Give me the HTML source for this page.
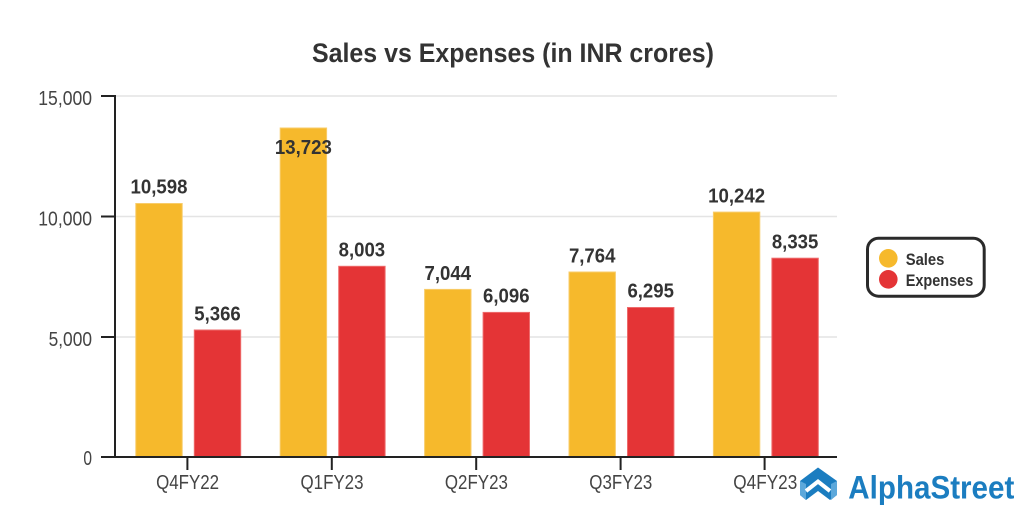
<!DOCTYPE html>
<html>
<head>
<meta charset="utf-8">
<style>
html,body{margin:0;padding:0;background:#fff;}
svg{display:block;}
text{font-family:"Liberation Sans",sans-serif;}
</style>
</head>
<body>
<svg width="1024" height="527" viewBox="0 0 1024 527" xmlns="http://www.w3.org/2000/svg">
<rect x="0" y="0" width="1024" height="527" fill="#fff"/>

<!-- Title -->
<text x="513" y="62" text-anchor="middle" font-size="27" font-weight="bold" fill="#333" textLength="402" lengthAdjust="spacingAndGlyphs">Sales vs Expenses (in INR crores)</text>

<!-- gridlines -->
<g stroke="#e4e4e4" stroke-width="1.5">
<line x1="115" y1="96" x2="837" y2="96"/>
<line x1="115" y1="216.5" x2="837" y2="216.5"/>
<line x1="115" y1="337" x2="837" y2="337"/>
</g>

<!-- bars -->
<g stroke-width="1">
<rect x="135.8" y="203.5" width="46.4" height="253.5" fill="#F6B92C" stroke="#F8CC6A"/>
<rect x="194.3" y="330.0" width="46.4" height="127.0" fill="#E43436" stroke="#EE6B6C"/>
<rect x="280.2" y="128.0" width="46.4" height="329.0" fill="#F6B92C" stroke="#F8CC6A"/>
<rect x="338.7" y="266.3" width="46.4" height="190.7" fill="#E43436" stroke="#EE6B6C"/>
<rect x="424.6" y="289.4" width="46.4" height="167.6" fill="#F6B92C" stroke="#F8CC6A"/>
<rect x="483.1" y="312.4" width="46.4" height="144.6" fill="#E43436" stroke="#EE6B6C"/>
<rect x="569.0" y="272.0" width="46.4" height="185.0" fill="#F6B92C" stroke="#F8CC6A"/>
<rect x="627.5" y="307.5" width="46.4" height="149.5" fill="#E43436" stroke="#EE6B6C"/>
<rect x="713.4" y="212.1" width="46.4" height="244.9" fill="#F6B92C" stroke="#F8CC6A"/>
<rect x="771.9" y="258.2" width="46.4" height="198.8" fill="#E43436" stroke="#EE6B6C"/>
</g>

<!-- value labels -->
<g font-size="20" font-weight="bold" fill="#333" text-anchor="middle">
<text x="159.0" y="193.5" textLength="57" lengthAdjust="spacingAndGlyphs">10,598</text>
<text x="217.5" y="320.5" textLength="46.5" lengthAdjust="spacingAndGlyphs">5,366</text>
<text x="303.4" y="154" textLength="57" lengthAdjust="spacingAndGlyphs">13,723</text>
<text x="361.9" y="256.5" textLength="46.5" lengthAdjust="spacingAndGlyphs">8,003</text>
<text x="447.8" y="280" textLength="46.5" lengthAdjust="spacingAndGlyphs">7,044</text>
<text x="506.3" y="302.5" textLength="46.5" lengthAdjust="spacingAndGlyphs">6,096</text>
<text x="592.2" y="262.5" textLength="46.5" lengthAdjust="spacingAndGlyphs">7,764</text>
<text x="650.7" y="297.5" textLength="46.5" lengthAdjust="spacingAndGlyphs">6,295</text>
<text x="736.6" y="202.5" textLength="57" lengthAdjust="spacingAndGlyphs">10,242</text>
<text x="795.1" y="248.5" textLength="46.5" lengthAdjust="spacingAndGlyphs">8,335</text>
</g>

<!-- axes -->
<g stroke="#222" stroke-width="2" fill="none">
<line x1="115" y1="95" x2="115" y2="457"/>
<line x1="101" y1="457" x2="837" y2="457"/>
<line x1="101" y1="96" x2="115" y2="96"/>
<line x1="101" y1="216.5" x2="115" y2="216.5"/>
<line x1="101" y1="337" x2="115" y2="337"/>
<line x1="187.4" y1="457" x2="187.4" y2="470"/>
<line x1="331.8" y1="457" x2="331.8" y2="470"/>
<line x1="476.2" y1="457" x2="476.2" y2="470"/>
<line x1="620.6" y1="457" x2="620.6" y2="470"/>
<line x1="764.6" y1="457" x2="764.6" y2="470"/>
</g>

<!-- y labels -->
<g font-size="20" fill="#444" text-anchor="end">
<text x="92" y="105" textLength="53.7" lengthAdjust="spacingAndGlyphs">15,000</text>
<text x="92" y="225.5" textLength="53.7" lengthAdjust="spacingAndGlyphs">10,000</text>
<text x="92" y="346" textLength="43.4" lengthAdjust="spacingAndGlyphs">5,000</text>
<text x="92" y="465" textLength="8.6" lengthAdjust="spacingAndGlyphs">0</text>
</g>

<!-- x labels -->
<g font-size="20" fill="#444" text-anchor="middle">
<text x="187.6" y="489" textLength="63" lengthAdjust="spacingAndGlyphs">Q4FY22</text>
<text x="332" y="489" textLength="63" lengthAdjust="spacingAndGlyphs">Q1FY23</text>
<text x="476.4" y="489" textLength="63" lengthAdjust="spacingAndGlyphs">Q2FY23</text>
<text x="620.8" y="489" textLength="63" lengthAdjust="spacingAndGlyphs">Q3FY23</text>
<text x="765.3" y="489" textLength="64" lengthAdjust="spacingAndGlyphs">Q4FY23</text>
</g>

<!-- legend -->
<rect x="867.5" y="238.2" width="116.7" height="58" rx="11" ry="11" fill="#fff" stroke="#2a2a2a" stroke-width="3"/>
<circle cx="888.3" cy="258.3" r="9.3" fill="#F6B92C"/>
<circle cx="888.3" cy="279.3" r="9.3" fill="#E43436"/>
<text x="905.7" y="265" font-size="17" font-weight="bold" fill="#333" textLength="38.7" lengthAdjust="spacingAndGlyphs">Sales</text>
<text x="905.7" y="286" font-size="17" font-weight="bold" fill="#333" textLength="67.6" lengthAdjust="spacingAndGlyphs">Expenses</text>

<!-- logo -->
<g>
<polygon points="818,467.5 837,481 837,495 830,500 818,491 806,500 800,495 800,481" fill="#1B7DC0"/>
<polygon points="800,481 806,484 806,500 800,495" fill="#5CA8DB"/>
<polygon points="837,481 831,484 831,500 837,495" fill="#5CA8DB"/>
<polyline points="806,491 818,481.5 830,491" fill="none" stroke="#fff" stroke-width="4" stroke-linejoin="miter"/>
</g>
<text x="848.3" y="498.3" font-size="32" font-weight="bold" fill="#1B7DC0" textLength="166" lengthAdjust="spacingAndGlyphs">AlphaStreet</text>
</svg>
</body>
</html>
